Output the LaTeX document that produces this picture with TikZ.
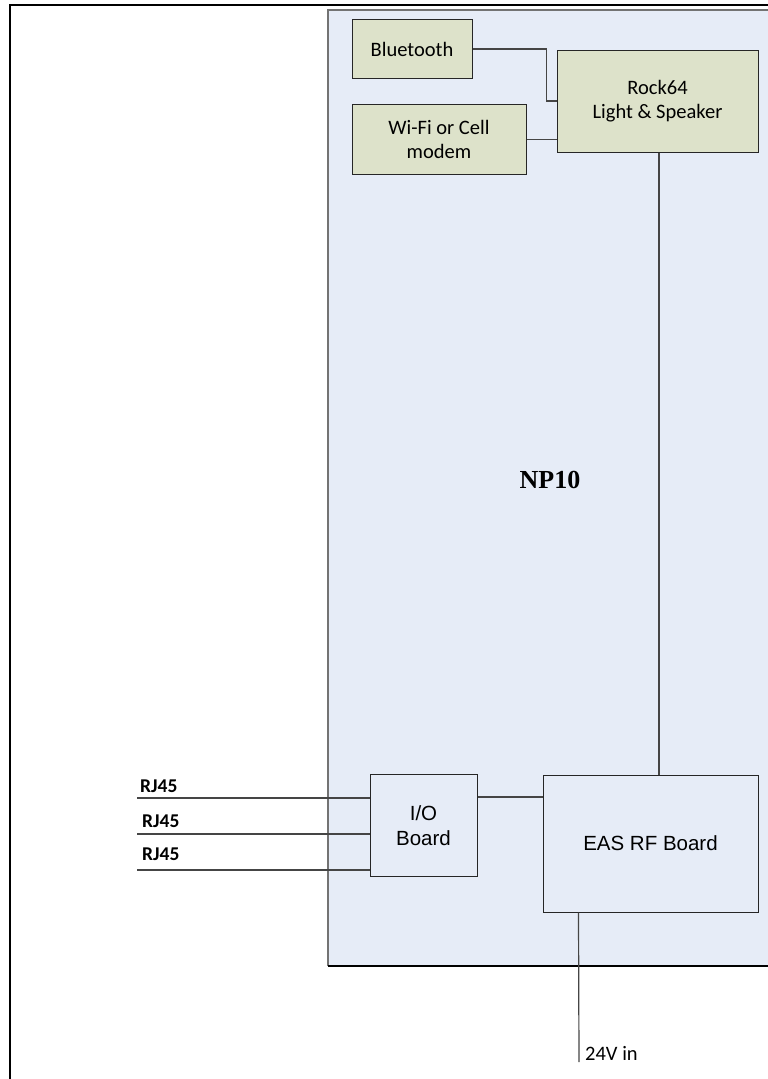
\documentclass[tikz,border=0pt]{standalone}
\usepackage{fontspec}
\usetikzlibrary{calc}
\newfontfamily\calfont{Carlito}
\newfontfamily\arifont{Liberation Sans}
\newfontfamily\timfont{Liberation Serif}
\definecolor{npfill}{HTML}{E6ECF7}
\definecolor{grfill}{HTML}{DDE2CA}
\definecolor{wire}{HTML}{454545}
\tikzset{
  greenbox/.style={draw=black!85, line width=1pt, fill=grfill, inner sep=0pt, align=center,
    font=\calfont\fontsize{20.5}{24}\selectfont},
  bluebox/.style={draw=black!85, line width=1pt, fill=npfill, inner sep=0pt, align=center,
    font=\arifont\fontsize{20.5}{25}\selectfont},
  wireline/.style={draw=wire, line width=1.2pt},
  rjlabel/.style={font=\calfont\bfseries\fontsize{19.5}{21}\selectfont, anchor=base west, inner sep=0pt},
}
\begin{document}
\begin{tikzpicture}[x=1pt,y=-1pt]
\useasboundingbox (0,0) rectangle (768,1079);
\clip (0,0) rectangle (768,1079);
% outer frame
\draw[line width=2.5pt, black] (10,5) rectangle (820,1120);
% NP10 enclosure
\fill[npfill] (328,10) rectangle (800,966);
\draw[line width=1.3pt, black!55] (800,10) -- (328,10) -- (328,966);
\draw[line width=1.3pt, black] (328,966) -- (800,966);
\node[font=\timfont\bfseries\fontsize{26}{30}\selectfont] (np) at (550,480) {NP10};
% boxes
\node[greenbox, minimum width=120pt, minimum height=59pt] (bt) at (412,49) {Bluetooth};
\node[greenbox, minimum width=174pt, minimum height=70pt] (wifi) at (439,139.5) {Wi-Fi or Cell\\modem};
\node[greenbox, minimum width=201pt, minimum height=102pt] (rock) at (657.5,101) {Rock64\\Light \& Speaker};
\node[bluebox, minimum width=107pt, minimum height=102pt] (io) at (423.5,825.5) {I/O\\Board};
\node[bluebox, minimum width=215pt, minimum height=137pt] (eas) at (650.5,843.5) {EAS RF Board};
% connectors
\draw[wireline] (bt.east) -- ++(74,0) |- (rock.west);
\draw[wireline] (wifi.east) -- (rock.west |- wifi.east);
\draw[wireline] ($(rock.south)+(1.5,0)$) -- ($(rock.south |- eas.north)+(1.5,0)$);
\coordinate (ioout) at ($(io.north east)+(0,23)$);
\draw[wireline] (ioout) -- (eas.west |- ioout);
% RJ45 lines
\coordinate (rj1) at (137,798);
\coordinate (rj2) at (137,834);
\coordinate (rj3) at (137,870);
\draw[wireline] (rj1) -- (io.west |- rj1);
\draw[wireline] (rj2) -- (io.west |- rj2);
\draw[wireline] (rj3) -- (io.west |- rj3);
\node[rjlabel] (l1) at (140,792) {RJ45};
\node[rjlabel] (l2) at (142,827) {RJ45};
\node[rjlabel] (l3) at (142,860) {RJ45};
% 24V in
\coordinate (pwr) at (579,1062);
\draw[wireline] ($(eas.south west)+(36,0)$) -- (pwr);
\node[font=\calfont\fontsize{20.5}{24}\selectfont, anchor=base west, inner sep=0pt] (vin) at (585,1060) {24V in};
\end{tikzpicture}
\end{document}
